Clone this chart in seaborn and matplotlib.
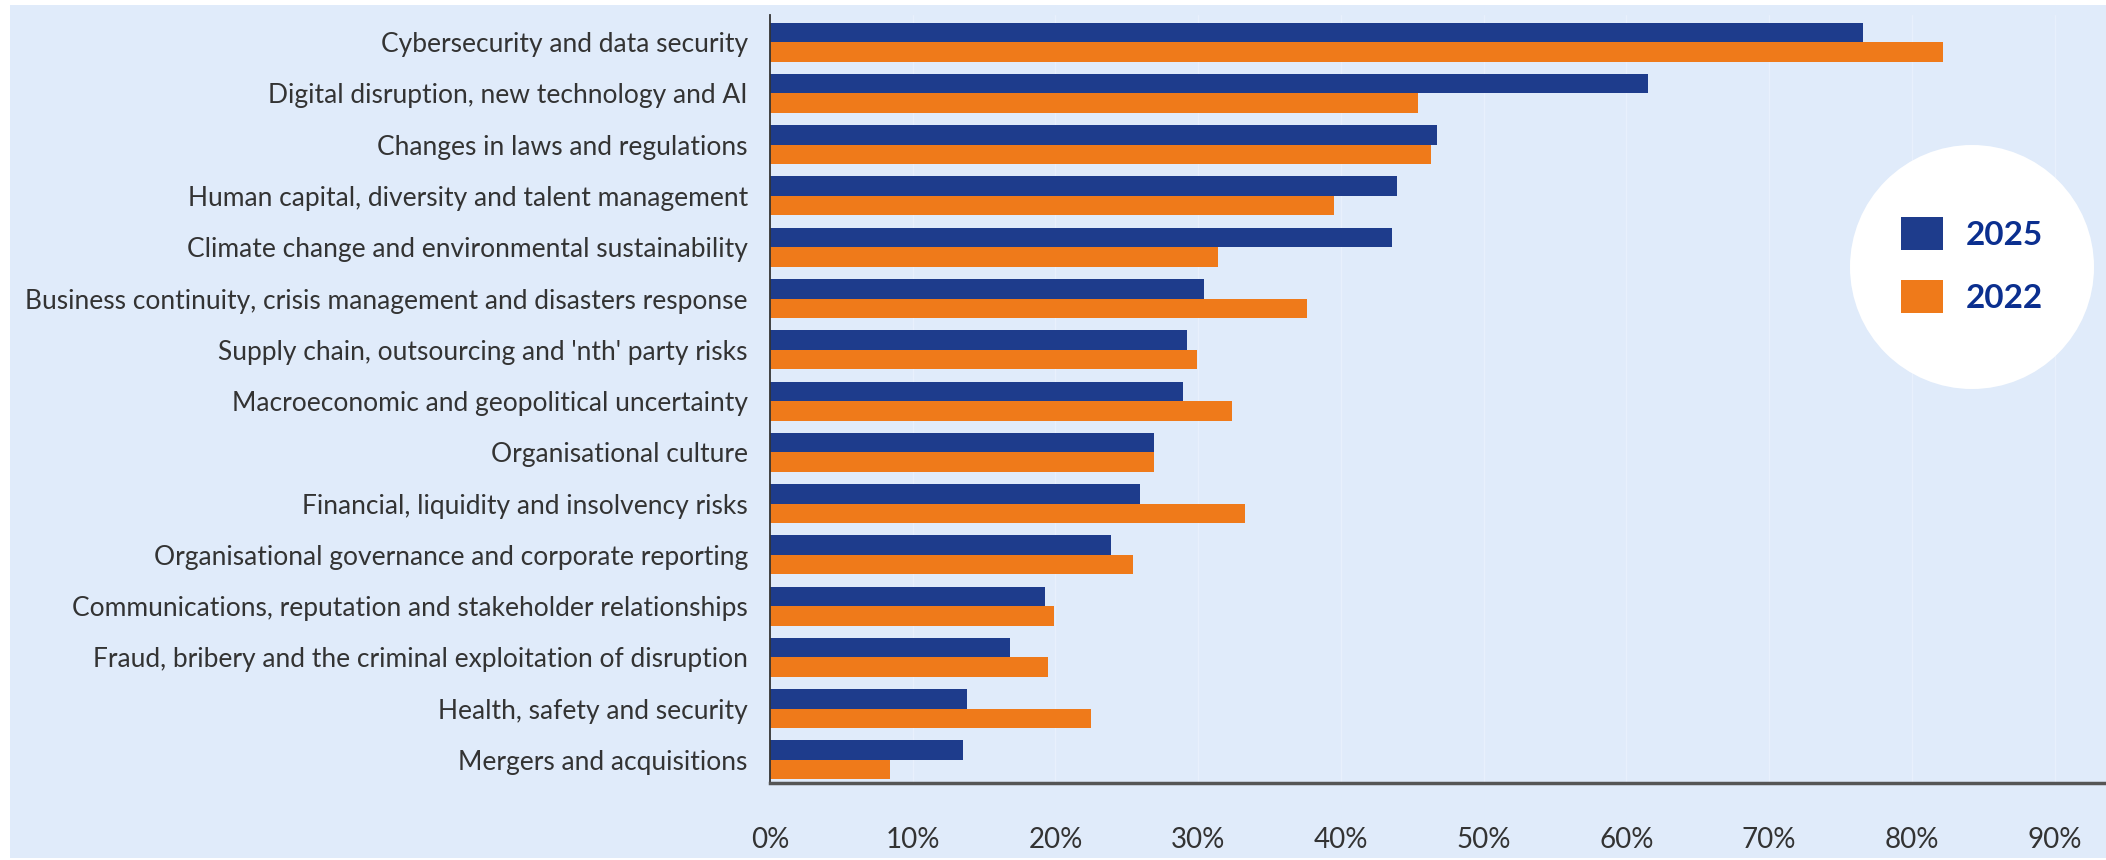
import numpy as np
import pandas as pd
import matplotlib
matplotlib.use('Agg')
import matplotlib.pyplot as plt
from matplotlib.patches import Ellipse, Rectangle
import seaborn as sns

categories = [
    'Cybersecurity and data security',
    'Digital disruption, new technology and AI',
    'Changes in laws and regulations',
    'Human capital, diversity and talent management',
    'Climate change and environmental sustainability',
    'Business continuity, crisis management and disasters response',
    "Supply chain, outsourcing and 'nth' party risks",
    'Macroeconomic and geopolitical uncertainty',
    'Organisational culture',
    'Financial, liquidity and insolvency risks',
    'Organisational governance and corporate reporting',
    'Communications, reputation and stakeholder relationships',
    'Fraud, bribery and the criminal exploitation of disruption',
    'Health, safety and security',
    'Mergers and acquisitions',
]
vals_2025 = [76.6, 61.5, 46.7, 43.9, 43.6, 30.4, 29.2, 28.9, 26.9, 25.9, 23.9, 19.3, 16.8, 13.8, 13.5]
vals_2022 = [82.2, 45.4, 46.3, 39.5, 31.4, 37.6, 29.9, 32.4, 26.9, 33.3, 25.4, 19.9, 19.5, 22.5, 8.4]
years = ['2025', '2022']
xticks = [0, 10, 20, 30, 40, 50, 60, 70, 80, 90]

df = pd.DataFrame({
    'risk': categories * 2,
    'pct': vals_2025 + vals_2022,
    'year': [years[0]] * len(categories) + [years[1]] * len(categories),
})

bg = '#E0EBFA'
navy = '#1E3C8C'
orange = '#EF7A1A'

sns.set_theme(style='white')
plt.rcParams['font.family'] = ['Lato', 'DejaVu Sans']

fig = plt.figure(figsize=(21.06, 8.6), dpi=100)
fig.patch.set_facecolor('white')
fig.patches.append(Rectangle((10 / 2106, 2 / 860), 1, 853 / 860, transform=fig.transFigure,
                             facecolor=bg, edgecolor='none', zorder=-10))

ax = fig.add_axes([770 / 2106, 1 - 783 / 860, 1 - 770 / 2106, (783 - 15) / 860])
ax.set_facecolor(bg)

sns.barplot(data=df, y='risk', x='pct', hue='year', orient='h',
            palette={'2025': navy, '2022': orange}, width=0.76, gap=0,
            saturation=1, linewidth=0, edgecolor='none',
            ax=ax, legend=True)

ax.set_xlim(0, 93.6)
ax.set_ylim(14.45, -0.53)
ax.set_xticks(xticks)
ax.set_xticklabels([f'{t}%' for t in xticks])
ax.set_xlabel('')
ax.set_ylabel('')
ax.xaxis.grid(True, color='#E8F0FC', linewidth=1.0)
ax.set_axisbelow(True)
ax.tick_params(axis='y', length=0, pad=16, labelsize=19, labelcolor='#333333')
ax.tick_params(axis='x', length=0, pad=32, labelsize=20, labelcolor='#333333')
for s in ['top', 'right']:
    ax.spines[s].set_visible(False)
ax.spines['left'].set_color('#333333')
ax.spines['left'].set_linewidth(1.3)
ax.spines['bottom'].set_color('#555555')
ax.spines['bottom'].set_linewidth(2.5)

# white circle behind the legend
circ = Ellipse((1972 / 2106, 1 - 267 / 860), 244 / 2106, 244 / 860, transform=fig.transFigure,
               facecolor='white', edgecolor='none', zorder=5)
fig.patches.append(circ)

handles, labels = ax.get_legend_handles_labels()
ax.get_legend().remove()
leg = fig.legend(handles, labels, loc='center', bbox_to_anchor=(1972 / 2106, 1 - 265 / 860),
                 frameon=False, handlelength=1.27, handleheight=1.15,
                 handletextpad=0.67, labelspacing=0.9,
                 prop={'weight': 'bold', 'size': 24})
leg.set_zorder(6)
for t in leg.get_texts():
    t.set_color('#0B2F8F')

fig.savefig('out.png', dpi=100, facecolor=fig.get_facecolor())
